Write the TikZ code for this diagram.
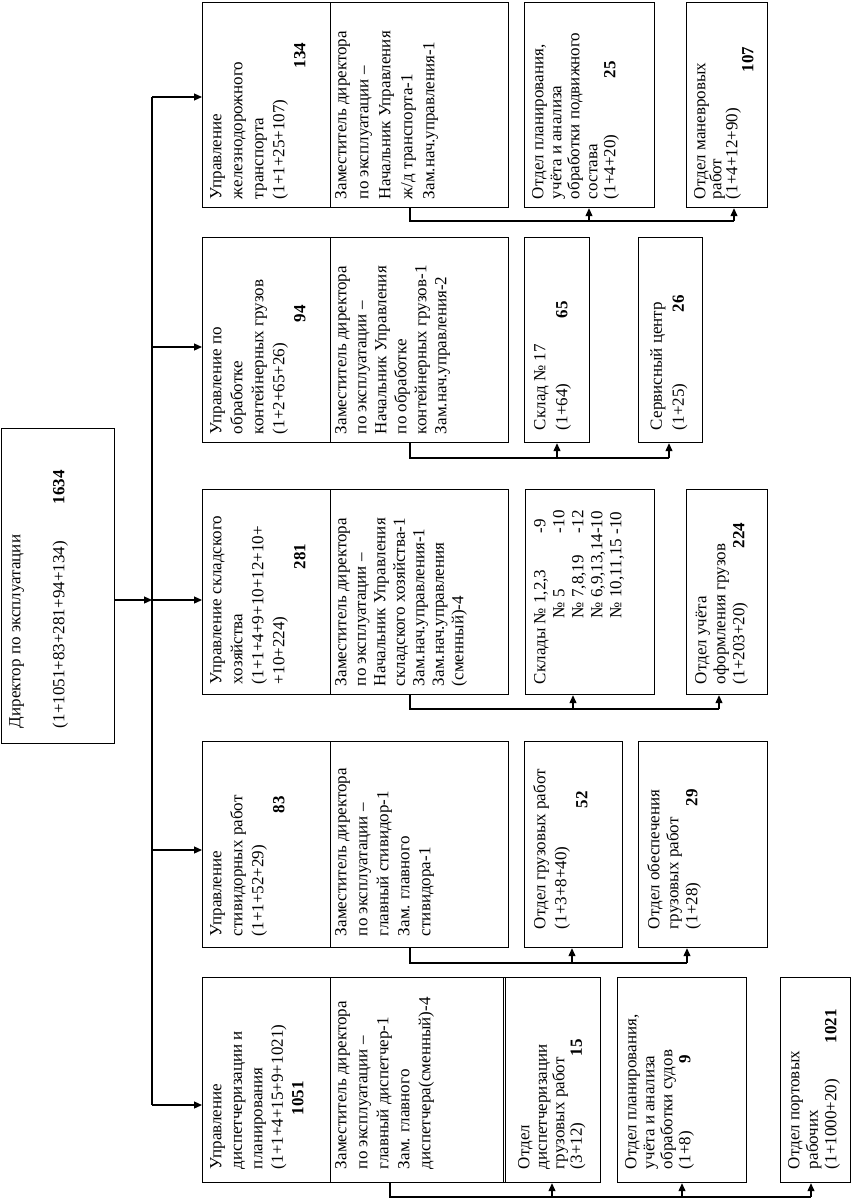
\documentclass[tikz,border=0pt]{standalone}
\usepackage{fontspec}
\setmainfont{Liberation Serif}
\usetikzlibrary{arrows.meta,calc}
\newcommand{\bx}[5]{\node[box,minimum width={(#4-#2)*1pt},minimum height={(#5-#3)*1pt}] (#1) at (#2,#3) {};}
\begin{document}
\begin{tikzpicture}[x=1pt,y=-1pt,
  box/.style={draw,line width=1.2pt,inner sep=0pt,anchor=north west},
  lbl/.style={rotate=90,anchor=north west,inner sep=0pt,align=left,font=\fontsize{17pt}{#1pt}\selectfont},
  lbl/.default=21,
  wire/.style={line width=1.2pt},
  arr/.style={wire,-{Triangle[length=8pt,width=7pt]}}]
\useasboundingbox (0,0) rectangle (862,1202);
\fill[white] (0,0) rectangle (862,1202);

% director
\bx{dir}{1}{428}{114}{743}
\node[lbl=22] (dirt) at ($(dir.south west)+(8,-16)$) {Директор по эксплуатации\\[22pt]\makebox[224pt][l]{(1+1051+83+281+94+134)}\textbf{1634}};

% management boxes
\bx{m1}{202}{2}{330}{207}
\bx{d1}{330}{2}{508}{207}
\bx{m2}{202}{237}{330}{442}
\bx{d2}{330}{237}{508}{442}
\bx{m3}{202}{489}{330}{694}
\bx{d3}{330}{489}{508}{694}
\bx{m4}{202}{741}{330}{947}
\bx{d4}{330}{741}{508}{947}
\bx{m5}{202}{977}{330}{1182}
\bx{d5}{330}{977}{505}{1182}

% departments
\bx{r1a}{524}{2}{654}{207}
\bx{r1b}{686}{2}{767}{207}
\bx{r2a}{524}{237}{589}{442}
\bx{r2b}{638}{237}{702}{442}
\bx{r3a}{525}{489}{654}{694}
\bx{r3b}{686}{489}{767}{694}
\bx{r4a}{524}{741}{622}{947}
\bx{r4b}{638}{741}{767}{947}
\bx{r5a}{503}{977}{600}{1182}
\bx{r5b}{617}{977}{746}{1182}
\bx{r5c}{780}{977}{850}{1182}

% texts
\node[lbl=21] (m1t) at ($(m1.south west)+(8,-9)$) {Управление\\железнодорожного\\транспорта\\(1+1+25+107)\\\hspace*{131pt}\textbf{134}};
\node[lbl=22] (d1t) at ($(d1.south west)+(5,-9)$) {Заместитель директора\\по эксплуатации –\\Начальник Управления\\ж/д транспорта-1\\Зам.нач.управления-1};
\node[lbl=18] (r1at) at ($(r1a.south west)+(8,-9)$) {Отдел планирования,\\учёта и анализа\\обработки подвижного\\состава\\\makebox[121pt][l]{(1+4+20)}\textbf{25}};
\node[lbl=16] (r1bt) at ($(r1b.south west)+(8,-9)$) {Отдел маневровых\\работ\\(1+4+12+90)\\\hspace*{127pt}\textbf{107}};

\node[lbl=21] (m2t) at ($(m2.south west)+(8,-9)$) {Управление по\\обработке\\контейнерных грузов\\(1+2+65+26)\\\hspace*{112pt}\textbf{94}};
\node[lbl=20] (d2t) at ($(d2.south west)+(5,-9)$) {Заместитель директора\\по эксплуатации –\\Начальник Управления\\по обработке\\контейнерных грузов-1\\Зам.нач.управления-2};
\node[lbl=22] (r2at) at ($(r2a.south west)+(10,-13)$) {Склад № 17\\\makebox[112pt][l]{(1+64)}\textbf{65}};
\node[lbl=22] (r2bt) at ($(r2b.south west)+(12,-13)$) {Сервисный центр\\\makebox[118pt][l]{(1+25)}\textbf{26}};

\node[lbl=21] (m3t) at ($(m3.south west)+(8,-11)$) {Управление складского\\хозяйства\\(1+1+4+9+10+12+10+\\+10+224)\\\hspace*{115pt}\textbf{281}};
\node[lbl=19.5] (d3t) at ($(d3.south west)+(5,-9)$) {Заместитель директора\\по эксплуатации –\\Начальник Управления\\складского хозяйства-1\\Зам.нач.управления-1\\Зам.нач.управления\\(сменный)-4};
\node[lbl=19] (r3at) at ($(r3a.south west)+(9,-11)$) {\makebox[151pt][l]{Склады № 1,2,3}-9\\\makebox[151pt][l]{\hspace*{66pt}№ 5}-10\\\makebox[151pt][l]{\hspace*{66pt}№ 7,8,19}-12\\\hspace*{66pt}№ 6,9,13,14-10\\\hspace*{66pt}№ 10,11,15 -10};
\node[lbl=19] (r3bt) at ($(r3b.south west)+(9,-11)$) {Отдел учёта\\оформления грузов\\\makebox[136pt][l]{(1+203+20)}\textbf{224}};

\node[lbl=21] (m4t) at ($(m4.south west)+(8,-12)$) {Управление\\стивидорных работ\\(1+1+52+29)\\\hspace*{123pt}\textbf{83}};
\node[lbl=21] (d4t) at ($(d4.south west)+(5,-12)$) {Заместитель директора\\по эксплуатации –\\главный стивидор-1\\Зам. главного\\стивидора-1};
\node[lbl=21] (r4at) at ($(r4a.south west)+(9,-19)$) {Отдел грузовых работ\\(1+3+8+40)\\\hspace*{121pt}\textbf{52}};
\node[lbl=19] (r4bt) at ($(r4b.south west)+(9,-19)$) {Отдел обеспечения\\грузовых работ\\\makebox[123pt][l]{(1+28)}\textbf{29}};

\node[lbl=20.5] (m5t) at ($(m5.south west)+(8,-14)$) {Управление\\диспетчеризации и\\планирования\\(1+1+4+15+9+1021)\\\hspace*{54pt}\textbf{1051}};
\node[lbl=21] (d5t) at ($(d5.south west)+(5,-14)$) {Заместитель директора\\по эксплуатации –\\главный диспетчер-1\\Зам. главного\\диспетчера(сменный)-4};
\node[lbl=17.5] (r5at) at ($(r5a.south west)+(15,-14)$) {Отдел\\диспетчеризации\\грузовых работ\\\makebox[113pt][l]{(3+12)}\textbf{15}};
\node[lbl=18] (r5bt) at ($(r5b.south west)+(8,-14)$) {Отдел планирования,\\учёта и анализа\\обработки судов\\\makebox[106pt][l]{(1+8)}\textbf{9}};
\node[lbl=18.5] (r5ct) at ($(r5c.south west)+(8,-14)$) {Отдел портовых\\рабочих\\\makebox[126pt][l]{(1+1000+20)}\textbf{1021}};

% main bus
\coordinate (b0) at (152,600);
\coordinate (bt) at (152,97);
\coordinate (b2) at (152,347);
\coordinate (b4) at (152,850);
\coordinate (bb) at (152,1105);
\draw[arr] (dir.east |- b0) -- (b0);
\draw[wire] (bt) -- (bb);
\draw[arr] (bt) -- (m1.west |- bt);
\draw[arr] (b2) -- (m2.west |- b2);
\draw[arr] (b0) -- (m3.west |- b0);
\draw[arr] (b4) -- (m4.west |- b4);
\draw[arr] (bb) -- (m5.west |- bb);

% row 1
\coordinate (j1) at (410,221);
\coordinate (a1a) at (589,221);
\coordinate (a1b) at (734,221);
\draw[wire] (d1.south -| j1) -- (j1) -- (a1b);
\draw[arr] (a1a) -- (a1a |- r1a.south);
\draw[arr] (a1b) -- (a1b |- r1b.south);
% row 2
\coordinate (j2) at (410,458);
\coordinate (a2a) at (557,458);
\coordinate (a2b) at (669,458);
\draw[wire] (d2.south -| j2) -- (j2) -- (a2b);
\draw[arr] (a2a) -- (a2a |- r2a.south);
\draw[arr] (a2b) -- (a2b |- r2b.south);
% row 3
\coordinate (j3) at (410,709);
\coordinate (a3a) at (573,709);
\coordinate (a3b) at (719,709);
\draw[wire] (d3.south -| j3) -- (j3) -- (a3b);
\draw[arr] (a3a) -- (a3a |- r3a.south);
\draw[arr] (a3b) -- (a3b |- r3b.south);
% row 4
\coordinate (j4) at (410,963);
\coordinate (a4a) at (572,963);
\coordinate (a4b) at (687,963);
\draw[wire] (d4.south -| j4) -- (j4) -- (a4b);
\draw[arr] (a4a) -- (a4a |- r4a.south);
\draw[arr] (a4b) -- (a4b |- r4b.south);
% row 5
\coordinate (j5) at (390,1197);
\coordinate (a5a) at (552,1197);
\coordinate (a5b) at (682,1197);
\coordinate (a5c) at (811,1197);
\draw[wire] (d5.south -| j5) -- (j5) -- (a5c);
\draw[arr] (a5a) -- (a5a |- r5a.south);
\draw[arr] (a5b) -- (a5b |- r5b.south);
\draw[arr] (a5c) -- (a5c |- r5c.south);
\end{tikzpicture}
\end{document}
